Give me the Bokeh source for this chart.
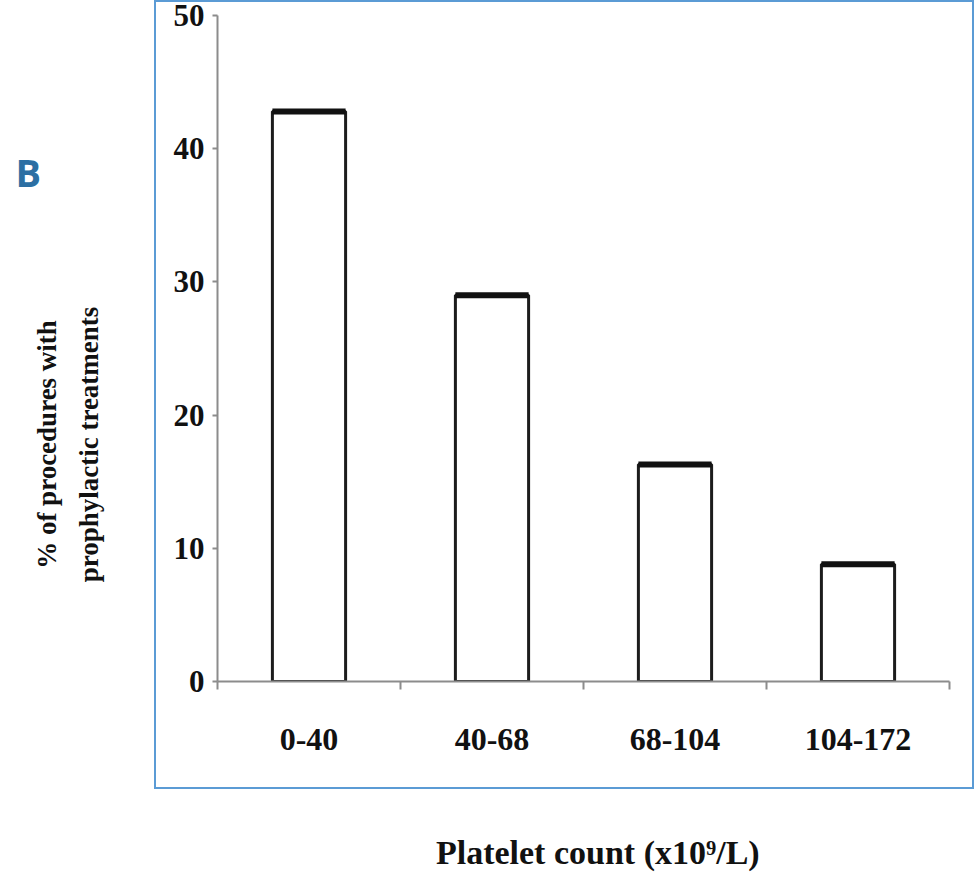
import math
from bokeh.plotting import figure
from bokeh.models import LinearAxis, FixedTicker, Range1d, Label, ColumnDataSource
from bokeh.layouts import row, column
from bokeh.embed import file_html
from bokeh.resources import INLINE

# ---- data ----
categories = ["0-40", "40-68", "68-104", "104-172"]
pct_prophylactic = [42.8, 29.0, 16.3, 8.8]
y_ticks = [0, 10, 20, 30, 40, 50]
x_title = "Platelet count (x10\u2079/L)"
y_title_1 = "% of procedures with"
y_title_2 = "prophylactic treatments"
panel_letter = "B"

BAR_W = 0.4
centers = [i + 0.5 for i in range(len(categories))]
half = BAR_W / 2
src = ColumnDataSource(dict(
    x=centers, top=pct_prophylactic,
    x0=[c - half for c in centers], x1=[c + half for c in centers],
))

SERIF = "Liberation Serif"
AXIS_GRAY = "#8c8c8c"
INK = "#111111"
BLUE_FRAME = "#5b9bd5"


def blank_fig(w, h):
    f = figure(width=w, height=h, output_backend="svg", toolbar_location=None,
               x_range=Range1d(0, w), y_range=Range1d(h, 0),
               x_axis_type=None, y_axis_type=None, min_border=0)
    f.outline_line_color = None
    f.xgrid.visible = False
    f.ygrid.visible = False
    return f


# ---- main (boxed) plot ----
MAIN_W, MAIN_H = 820, 789
p = figure(width=MAIN_W, height=MAIN_H, output_backend="svg", toolbar_location=None,
           x_range=Range1d(0, len(categories)), y_range=Range1d(0, 50),
           min_border_left=61, min_border_right=27, min_border_top=13,
           min_border_bottom=110, x_axis_type=None, y_axis_type=None,
           styles={"border": f"2px solid {BLUE_FRAME}"})
p.outline_line_color = None
p.xgrid.visible = False
p.ygrid.visible = False

yax = LinearAxis(ticker=FixedTicker(ticks=y_ticks, minor_ticks=[]))
yax.axis_line_color = AXIS_GRAY
yax.axis_line_width = 2
yax.major_tick_line_color = AXIS_GRAY
yax.major_tick_line_width = 2
yax.major_tick_in = 0
yax.major_tick_out = 5
yax.minor_tick_line_color = None
yax.major_label_text_font = SERIF
yax.major_label_text_font_style = "bold"
yax.major_label_text_font_size = "31px"
yax.major_label_text_color = INK
yax.major_label_standoff = 8
p.add_layout(yax, "left")

xax = LinearAxis(ticker=FixedTicker(ticks=centers,
                                    minor_ticks=list(range(len(categories) + 1))))
xax.axis_line_color = AXIS_GRAY
xax.axis_line_width = 2
xax.major_tick_line_color = None
xax.major_tick_in = 0
xax.major_tick_out = 0
xax.minor_tick_line_color = AXIS_GRAY
xax.minor_tick_line_width = 2
xax.minor_tick_in = 0
xax.minor_tick_out = 8
xax.major_label_overrides = {c: lab for c, lab in zip(centers, categories)}
xax.major_label_text_font = SERIF
xax.major_label_text_font_style = "bold"
xax.major_label_text_font_size = "32px"
xax.major_label_text_color = INK
xax.major_label_standoff = 39
p.add_layout(xax, "below")

p.vbar(x="x", top="top", bottom=0, width=BAR_W, source=src,
       fill_color="white", line_color="#1c1c1c", line_width=3)
p.segment(x0="x0", x1="x1", y0="top", y1="top", source=src,
          line_color=INK, line_width=6)

# ---- left strip: panel letter + y title ----
LEFT_W, LEFT_H = 154, 876
left = blank_fig(LEFT_W, LEFT_H)
left.add_layout(Label(x=15, y=171, text=panel_letter, text_font="Open Sans",
                      text_font_style="bold", text_font_size="38px",
                      text_color="#2b6fa3", text_baseline="alphabetic"))
left.add_layout(Label(x=46, y=444, text=y_title_1, angle=math.pi / 2,
                      text_align="center", text_baseline="middle",
                      text_font=SERIF, text_font_style="bold",
                      text_font_size="27px", text_color=INK))
left.add_layout(Label(x=88, y=444, text=y_title_2, angle=math.pi / 2,
                      text_align="center", text_baseline="middle",
                      text_font=SERIF, text_font_style="bold",
                      text_font_size="27px", text_color=INK))

# ---- bottom strip: x title ----
BOT_W, BOT_H = 824, 83
bottom = blank_fig(BOT_W, BOT_H)
bottom.add_layout(Label(x=428, y=63, text=x_title, text_align="center",
                        text_baseline="middle", text_font=SERIF,
                        text_font_style="bold", text_font_size="34px",
                        text_color=INK))

layout = row(left, column(p, bottom, spacing=0), spacing=0)
open("out.html", "w").write(file_html(layout, INLINE))
